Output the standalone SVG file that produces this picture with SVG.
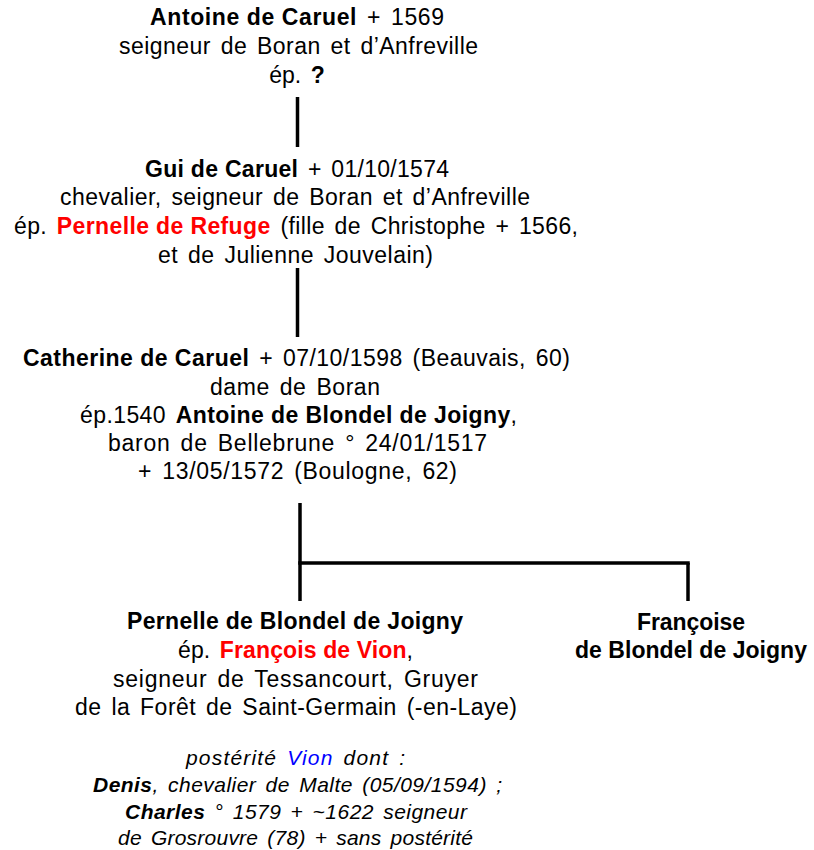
<svg xmlns="http://www.w3.org/2000/svg" width="814" height="850" viewBox="0 0 814 850">
<style>
text{font-family:"Liberation Sans",Arimo,Arial,Helvetica,sans-serif;font-size:23px;fill:#000;text-anchor:middle;word-spacing:3px}
.b{font-weight:bold;word-spacing:0}
.red{fill:#FF0000;font-weight:bold;word-spacing:0}
.sm{font-size:21px;font-style:italic;word-spacing:3px}
.blue{fill:#0000FF}
.ln{stroke:#000;stroke-width:3.5;fill:none}
</style>
<rect width="814" height="850" fill="#fff"/>
<g id="connectors">
<line class="ln" x1="297.5" y1="97" x2="297.5" y2="147"/>
<line class="ln" x1="297.5" y1="268" x2="297.5" y2="337"/>
<line class="ln" x1="300" y1="503" x2="300" y2="601"/>
<line class="ln" x1="298.25" y1="563" x2="689.75" y2="563"/>
<line class="ln" x1="688" y1="563" x2="688" y2="601"/>
</g>
<g id="antoine">
<text x="297" y="25" textLength="294" lengthAdjust="spacing"><tspan class="b">Antoine de Caruel</tspan> + 1569</text>
<text x="298.5" y="54" textLength="359" lengthAdjust="spacing">seigneur de Boran et d’Anfreville</text>
<text x="297" y="83">ép. <tspan class="b">?</tspan></text>
</g>
<g id="gui">
<text x="297" y="177" textLength="304" lengthAdjust="spacing"><tspan class="b">Gui de Caruel</tspan> + 01/10/1574</text>
<text x="295" y="205" textLength="470" lengthAdjust="spacing">chevalier, seigneur de Boran et d’Anfreville</text>
<text x="296" y="234" textLength="564" lengthAdjust="spacing">ép. <tspan class="red">Pernelle de Refuge</tspan> (fille de Christophe + 1566,</text>
<text x="295.5" y="263" textLength="275" lengthAdjust="spacing">et de Julienne Jouvelain)</text>
</g>
<g id="catherine">
<text x="296.5" y="366" textLength="547" lengthAdjust="spacing"><tspan class="b">Catherine de Caruel</tspan> + 07/10/1598 (Beauvais, 60)</text>
<text x="295" y="395" textLength="170" lengthAdjust="spacing">dame de Boran</text>
<text x="298.5" y="423" textLength="437" lengthAdjust="spacing">ép.1540 <tspan class="b">Antoine de Blondel de Joigny</tspan>,</text>
<text x="297.5" y="451" textLength="379" lengthAdjust="spacing">baron de Bellebrune ° 24/01/1517</text>
<text x="297.5" y="479" textLength="319" lengthAdjust="spacing">+ 13/05/1572 (Boulogne, 62)</text>
</g>
<g id="pernelle">
<text class="b" x="295" y="629" textLength="336" lengthAdjust="spacing">Pernelle de Blondel de Joigny</text>
<text x="295.5" y="658" textLength="235" lengthAdjust="spacing">ép. <tspan class="red">François de Vion</tspan>,</text>
<text x="295.5" y="687" textLength="365" lengthAdjust="spacing">seigneur de Tessancourt, Gruyer</text>
<text x="296" y="715" textLength="442" lengthAdjust="spacing">de la Forêt de Saint-Germain (-en-Laye)</text>
<text class="sm" x="295.5" y="765" textLength="219" lengthAdjust="spacing">postérité <tspan class="blue">Vion</tspan> dont :</text>
<text class="sm" x="297.5" y="792" textLength="409" lengthAdjust="spacing"><tspan class="b">Denis</tspan>, chevalier de Malte (05/09/1594) ;</text>
<text class="sm" x="296" y="819" textLength="342" lengthAdjust="spacing"><tspan class="b">Charles</tspan> ° 1579 + ~1622 seigneur</text>
<text class="sm" x="295.5" y="845" textLength="355" lengthAdjust="spacing">de Grosrouvre (78) + sans postérité</text>
</g>
<g id="francoise">
<text class="b" x="691" y="630" textLength="108" lengthAdjust="spacing">Françoise</text>
<text class="b" x="691" y="658" textLength="232" lengthAdjust="spacing">de Blondel de Joigny</text>
</g>
</svg>
